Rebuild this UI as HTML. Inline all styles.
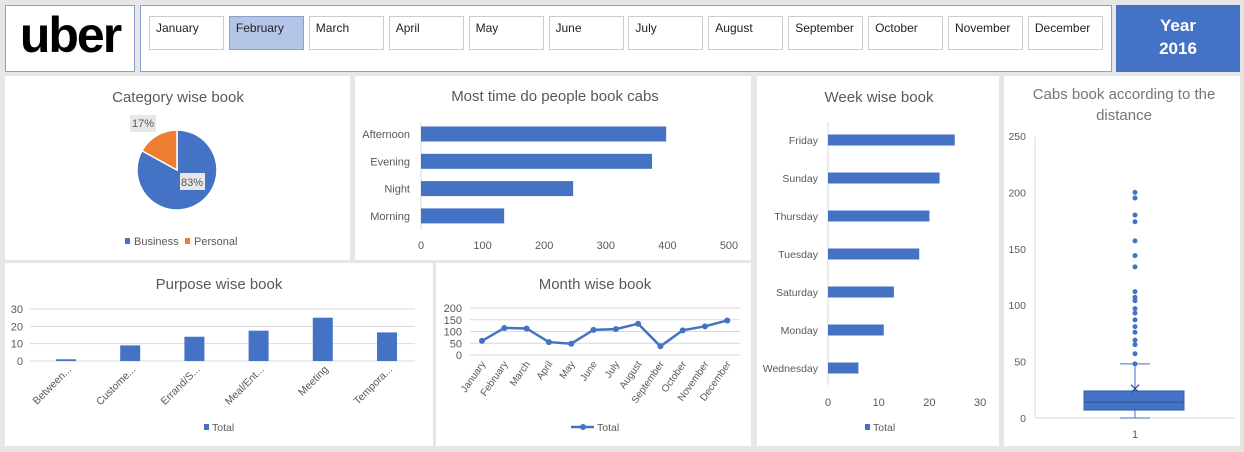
<!DOCTYPE html>
<html><head><meta charset="utf-8"><style>
body{margin:0;width:1244px;height:452px;background:#e6e6e6;font-family:"Liberation Sans",sans-serif;overflow:hidden;position:relative}
.p{position:absolute;background:#fff}
.btn{position:absolute;top:16px;height:34px;width:75px;border:1px solid #ccc;background:#fff;font-size:12px;color:#222;box-sizing:border-box;padding:4px 6px}
svg{position:absolute;left:0;top:0}
</style></head><body>
<div class="p" style="left:5px;top:5px;width:128px;height:65px;border:1px solid #8da0cc;font:bold 50px 'Liberation Sans',sans-serif;text-align:center;line-height:58px;letter-spacing:-2px">uber</div>
<div class="p" style="left:140px;top:5px;width:970px;height:65px;border:1px solid #8da0cc"></div>
<div id="btns"></div>
<div class="p" style="left:1116px;top:5px;width:124px;height:67px;background:#4472c4;color:#fff;font-weight:bold;font-size:17px;text-align:center;line-height:23px;padding-top:9px;box-sizing:border-box">Year<br>2016</div>
<div class="p" style="left:5px;top:76px;width:345px;height:184px"></div>
<div class="p" style="left:355px;top:76px;width:396px;height:184px"></div>
<div class="p" style="left:757px;top:76px;width:242px;height:370px"></div>
<div class="p" style="left:1004px;top:76px;width:236px;height:370px"></div>
<div class="p" style="left:5px;top:263px;width:428px;height:183px"></div>
<div class="p" style="left:436px;top:263px;width:315px;height:183px"></div>
<svg id="s" width="1244" height="452" font-family="Liberation Sans, sans-serif"></svg>
<script>
const months=["January","February","March","April","May","June","July","August","September","October","November","December"];
const pieCats=["Business","Personal"];const pieVals=[83,17];
const timeCats=["Afternoon","Evening","Night","Morning"];const timeVals=[398,375,247,135];
const timeTicks=[0,100,200,300,400,500];
const weekCats=["Friday","Sunday","Thursday","Tuesday","Saturday","Monday","Wednesday"];const weekVals=[25,22,20,18,13,11,6];
const weekTicks=[0,10,20,30];
const purCats=["Between...","Custome...","Errand/S...","Meal/Ent...","Meeting","Tempora..."];const purVals=[1,9,14,17.5,25,16.5];
const purTicks=[0,10,20,30];
const monVals=[60,115,113,55,48,107,110,133,37,105,122,147];
const monTicks=[0,50,100,150,200];
const boxStats={min:0,q1:7,median:14,q3:24,max:48,mean:26};
const outliers=[200,195,180,174,157,144,134,112,107,104,97,93,87,81,76,69,65,57,48];
const boxTicks=[0,50,100,150,200,250];
const B="#4472c4",O="#ed7d31",G="#595959",L="#d9d9d9";
const s=document.getElementById('s');
function el(t,a,txt,name){const e=document.createElementNS('http://www.w3.org/2000/svg',t);for(const k in a)e.setAttribute(k,a[k]);if(txt!==undefined)e.textContent=txt;


s.appendChild(e);return e;}
const bw=document.getElementById('btns');
months.forEach((m,i)=>{const d=document.createElement('div');d.className='btn';d.style.left=(149+i*79.9)+'px';d.textContent=m;
if(i==1){d.style.background='#b4c6e7';d.style.borderColor='#8ea0c8';}


bw.appendChild(d);});
function title(x,y,t,n){el('text',{x:x,y:y,'font-size':15,fill:G,'text-anchor':'middle'},t,n);}
title(178,102,"Category wise  book","pie-title");
{const cx=177,cy=170,r=40;let a0=-Math.PI/2;const cols=[B,O];const tot=pieVals.reduce((a,b)=>a+b);
pieVals.forEach((v,i)=>{const a1=a0+v/tot*2*Math.PI;const x0=cx+r*Math.cos(a0),y0=cy+r*Math.sin(a0),x1=cx+r*Math.cos(a1),y1=cy+r*Math.sin(a1);
el('path',{d:`M${cx},${cy}L${x0},${y0}A${r},${r} 0 ${a1-a0>Math.PI?1:0} 1 ${x1},${y1}Z`,fill:cols[i],stroke:'#fff','stroke-width':1.5},undefined,'pie-slice-'+pieCats[i].toLowerCase());a0=a1;});
el('rect',{x:180,y:173,width:25,height:17,fill:'#e7e7e7'},undefined,'label-bg');el('text',{x:192,y:186,'font-size':11,fill:G,'text-anchor':'middle'},pieVals[0]+'%','pie-label-business');
el('rect',{x:130,y:115,width:26,height:17,fill:'#e7e7e7'},undefined,'label-bg2');el('text',{x:143,y:127,'font-size':11,fill:G,'text-anchor':'middle'},pieVals[1]+'%','pie-label-personal');
el('rect',{x:125,y:238,width:5,height:6,fill:B},undefined,'legend-business-swatch');el('text',{x:134,y:245,'font-size':11,fill:G},"Business",'legend-business');
el('rect',{x:185,y:238,width:5,height:6,fill:O},undefined,'legend-personal-swatch');el('text',{x:194,y:245,'font-size':11,fill:G},"Personal",'legend-personal');}
title(555,101,"Most time do people book cabs","time-title");
{const x=v=>421+v*0.616;el('line',{x1:421,y1:122,x2:421,y2:230,stroke:L},undefined,'time-axis');
timeCats.forEach((c,i)=>{const y=134+i*27.3;el('rect',{x:421,y:y-7.5,width:x(timeVals[i])-421,height:15,fill:B},undefined,'bar-'+c.toLowerCase());
el('text',{x:410,y:y+4,'font-size':11,fill:G,'text-anchor':'end'},c,'time-label-'+c.toLowerCase());});
timeTicks.forEach(t=>el('text',{x:x(t),y:249,'font-size':11,fill:G,'text-anchor':'middle'},t,'time-tick'));}
title(879,102,"Week wise book","week-title");
{const x=v=>828+v*5.07;el('line',{x1:828,y1:122,x2:828,y2:385,stroke:L},undefined,'week-axis');
weekCats.forEach((c,i)=>{const y=140+i*38;el('rect',{x:828,y:y-5.5,width:x(weekVals[i])-828,height:11,fill:B},undefined,'bar-'+c.toLowerCase());
el('text',{x:818,y:y+4,'font-size':10.5,fill:G,'text-anchor':'end'},c,'week-label-'+c.toLowerCase());});
weekTicks.forEach(t=>el('text',{x:x(t),y:406,'font-size':11,fill:G,'text-anchor':'middle'},t,'week-tick'));
el('rect',{x:865,y:424,width:5,height:6,fill:B},undefined,'legend-swatch');el('text',{x:873,y:431,'font-size':10.5,fill:G},"Total",'week-legend');}
el('text',{x:1124,y:99,'font-size':15,fill:'#757575','text-anchor':'middle'},"Cabs book according to the","box-title");
el('text',{x:1124,y:120,'font-size':15,fill:'#757575','text-anchor':'middle'},"distance","box-title-2");
{const y=v=>418-v*1.128;el('line',{x1:1035,y1:137,x2:1035,y2:418,stroke:L},undefined,'box-yaxis');el('line',{x1:1035,y1:418,x2:1235,y2:418,stroke:L},undefined,'box-xaxis');
boxTicks.forEach(t=>el('text',{x:1026,y:y(t)+4,'font-size':10.5,fill:G,'text-anchor':'end'},t,'box-tick'));
el('line',{x1:1135,y1:y(boxStats.q3),x2:1135,y2:y(boxStats.max),stroke:B},undefined,'whisker-upper');
el('line',{x1:1135,y1:y(boxStats.min),x2:1135,y2:y(boxStats.q1),stroke:B},undefined,'whisker-lower');
el('line',{x1:1120,y1:y(boxStats.max),x2:1150,y2:y(boxStats.max),stroke:B},undefined,'whisker-cap-upper');
el('line',{x1:1120,y1:y(boxStats.min),x2:1150,y2:y(boxStats.min),stroke:B},undefined,'whisker-cap-lower');
el('rect',{x:1084,y:y(boxStats.q3),width:100,height:y(boxStats.q1)-y(boxStats.q3),fill:B,stroke:'#3a62ab'},undefined,'box');
el('line',{x1:1084,y1:y(boxStats.median),x2:1184,y2:y(boxStats.median),stroke:'#2f5597'},undefined,'median');
const my=y(boxStats.mean);el('path',{d:`M1131,${my-4}L1139,${my+4}M1139,${my-4}L1131,${my+4}`,stroke:'#2f5597','stroke-width':1.3},undefined,'mean-marker');
outliers.forEach(o=>el('circle',{cx:1135,cy:y(o),r:2.5,fill:B},undefined,'outlier'));
el('text',{x:1135,y:438,'font-size':11,fill:G,'text-anchor':'middle'},"1",'box-category');}
title(219,289,"Purpose wise book","purpose-title");
{const y=v=>361-v*1.733;purTicks.forEach(t=>{el('line',{x1:30,y1:y(t),x2:415,y2:y(t),stroke:L},undefined,'purpose-grid');el('text',{x:23,y:y(t)+4,'font-size':11,fill:G,'text-anchor':'end'},t,'purpose-tick');});
purCats.forEach((c,i)=>{const cx=66+i*64.2;el('rect',{x:cx-10,y:y(purVals[i]),width:20,height:361-y(purVals[i]),fill:B},undefined,'bar-purpose-'+i);
el('text',{x:cx+6,y:370,'font-size':10.5,fill:G,'text-anchor':'end',transform:`rotate(-45 ${cx+6} 370)`},c,'purpose-label');});
el('rect',{x:204,y:424,width:5,height:6,fill:B},undefined,'purpose-legend-swatch');el('text',{x:212,y:431,'font-size':10.5,fill:G},"Total",'purpose-legend');}
title(595,289,"Month wise book","month-title");
{const y=v=>355-v*0.235,x=i=>482+i*22.3;monTicks.forEach(t=>{el('line',{x1:470,y1:y(t),x2:740,y2:y(t),stroke:L},undefined,'month-grid');el('text',{x:462,y:y(t)+4,'font-size':11,fill:G,'text-anchor':'end'},t,'month-tick');});
el('polyline',{points:monVals.map((v,i)=>x(i)+','+y(v)).join(' '),fill:'none',stroke:B,'stroke-width':2.5},undefined,'month-line');
monVals.forEach((v,i)=>{el('circle',{cx:x(i),cy:y(v),r:3,fill:B},undefined,'month-point');
el('text',{x:x(i)+4,y:364,'font-size':10,fill:G,'text-anchor':'end',transform:`rotate(-55 ${x(i)+4} 364)`},months[i],'month-label');});
el('line',{x1:571,y1:427,x2:594,y2:427,stroke:B,'stroke-width':2.5},undefined,'month-legend-line');el('circle',{cx:583,cy:427,r:3,fill:B},undefined,'month-legend-point');
el('text',{x:597,y:431,'font-size':10.5,fill:G},"Total",'month-legend');}
</script>
</body></html>
